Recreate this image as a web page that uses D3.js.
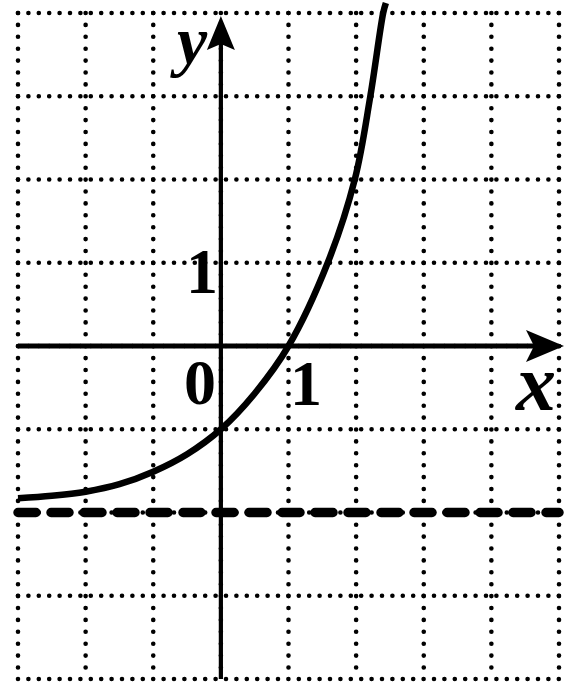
<!DOCTYPE html>
<html>
<head>
<meta charset="utf-8">
<script src="https://cdn.jsdelivr.net/npm/d3@7"></script>
<style>
  html, body { margin: 0; padding: 0; background: #fff; }
  svg { display: block; }
</style>
</head>
<body>
<svg id="chart" width="565" height="685"></svg>
<script>
// ---- data ----
const gridX = [-3, -2, -1, 0, 1, 2, 3, 4, 5];
const gridY = [-4, -3, -2, -1, 0, 1, 2, 3, 4];
const curveX = [-3, -2.5, -2, -1.5, -1, -0.5, 0, 0.5, 1, 1.58, 1.98, 2.21, 2.40, 2.44];
const curveY = [-1.83, -1.80, -1.75, -1.66, -1.51, -1.30, -1.0, -0.57, 0, 1, 2, 3, 4, 4.12];
const asymptoteY = -2;

// ---- scales ----
const x = d3.scaleLinear().domain([-3, 5]).range([18, 559]);
const y = d3.scaleLinear().domain([-4, 4]).range([679, 13]);

const svg = d3.select("#chart");

// grid (dotted)
const grid = svg.append("g");
grid.selectAll("line.v").data(gridX).join("line")
  .attr("x1", d => x(d)).attr("x2", d => x(d))
  .attr("y1", y(4)).attr("y2", y(-4))
  .attr("stroke", "#000").attr("stroke-width", 4.6)
  .attr("stroke-linecap", "round").attr("stroke-dasharray", "0 11.9");
grid.selectAll("line.h").data(gridY).join("line")
  .attr("y1", d => y(d)).attr("y2", d => y(d))
  .attr("x1", x(-3)).attr("x2", x(5))
  .attr("stroke", "#000").attr("stroke-width", 4.6)
  .attr("stroke-linecap", "round").attr("stroke-dasharray", "0 10.4");

// asymptote (dashed)
svg.append("line")
  .attr("x1", x(-3)).attr("x2", x(5))
  .attr("y1", y(asymptoteY)).attr("y2", y(asymptoteY))
  .attr("stroke", "#000").attr("stroke-width", 9.5)
  .attr("stroke-linecap", "round").attr("stroke-dasharray", "18 15");

// axes
const x0 = x(0), y0 = y(0);
svg.append("line").attr("x1", x(-3)).attr("x2", 540)
  .attr("y1", y0).attr("y2", y0).attr("stroke", "#000").attr("stroke-width", 5);
svg.append("line").attr("x1", x0).attr("x2", x0)
  .attr("y1", y(-4)).attr("y2", 40).attr("stroke", "#000").attr("stroke-width", 4.2);

// arrowheads
svg.append("path")
  .attr("d", `M564,${y0} L526,${y0 - 16} L534,${y0} L526,${y0 + 16} Z`)
  .attr("fill", "#000");
svg.append("path")
  .attr("d", `M${x0},16 L${x0 - 14},50 L${x0},44 L${x0 + 14},50 Z`)
  .attr("fill", "#000");

// curve
const pts = curveX.map((d, i) => [d, curveY[i]]);
svg.append("path")
  .datum(pts)
  .attr("d", d3.line().x(d => x(d[0])).y(d => y(d[1])).curve(d3.curveCatmullRom.alpha(0.5)))
  .attr("fill", "none").attr("stroke", "#000").attr("stroke-width", 6.5);

// labels
const serif = "'Liberation Serif', 'DejaVu Serif', serif";
svg.append("text").text("y")
  .attr("x", 192).attr("y", 64)
  .attr("text-anchor", "middle")
  .attr("font-family", serif).attr("font-style", "italic").attr("font-weight", "bold")
  .attr("font-size", 68);
svg.append("text").text("x")
  .attr("x", 536).attr("y", 410)
  .attr("text-anchor", "middle")
  .attr("font-family", serif).attr("font-style", "italic").attr("font-weight", "bold")
  .attr("font-size", 80);

svg.append("text").text("0")
  .attr("x", 200).attr("y", 404).attr("text-anchor", "middle")
  .attr("font-family", serif).attr("font-weight", "bold").attr("font-size", 64);
svg.append("text").text("1")
  .attr("x", 306).attr("y", 405).attr("text-anchor", "middle")
  .attr("font-family", serif).attr("font-weight", "bold").attr("font-size", 64);
svg.append("text").text("1")
  .attr("x", 202).attr("y", 293).attr("text-anchor", "middle")
  .attr("font-family", serif).attr("font-weight", "bold").attr("font-size", 64);
</script>
</body>
</html>
